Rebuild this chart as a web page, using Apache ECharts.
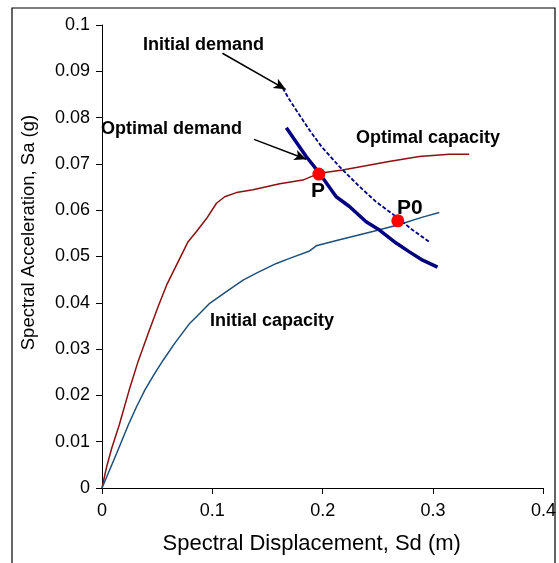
<!DOCTYPE html>
<html>
<head>
<meta charset="utf-8">
<script src="https://cdn.jsdelivr.net/npm/echarts@6/dist/echarts.min.js"></script>
<style>html,body{margin:0;padding:0;background:#fff}#c{width:559px;height:563px}</style>
</head>
<body>
<div id="c"></div>
<script>
// Axis ticks
const xTicks = [0, 0.1, 0.2, 0.3, 0.4];
const yTicks = [0, 0.01, 0.02, 0.03, 0.04, 0.05, 0.06, 0.07, 0.08, 0.09, 0.1];

// Optimal capacity (dark red)
const optCapX = [0, 0.0042, 0.0088, 0.0156, 0.0247, 0.0328, 0.0419, 0.0509, 0.0585, 0.0705, 0.078, 0.0856, 0.0947, 0.1037, 0.1112, 0.1218, 0.1368, 0.161, 0.182, 0.197, 0.218, 0.26, 0.2875, 0.3146, 0.3327];
const optCapY = [0, 0.0046, 0.0086, 0.0136, 0.0212, 0.0274, 0.0334, 0.0392, 0.0438, 0.0496, 0.0532, 0.0554, 0.0582, 0.0615, 0.0629, 0.0638, 0.0644, 0.0657, 0.0665, 0.068, 0.0687, 0.0705, 0.0716, 0.0721, 0.0721];

// Initial capacity (blue)
const iniCapX = [0, 0.0133, 0.0238, 0.0314, 0.0389, 0.0479, 0.0554, 0.066, 0.0796, 0.0856, 0.0976, 0.1127, 0.1278, 0.1399, 0.158, 0.17, 0.1881, 0.1941, 0.2152, 0.2453, 0.2679, 0.2905, 0.3056];
const iniCapY = [0, 0.0075, 0.0136, 0.0176, 0.0212, 0.0248, 0.0276, 0.0313, 0.0356, 0.037, 0.0399, 0.0424, 0.0449, 0.0464, 0.0485, 0.0496, 0.0512, 0.0523, 0.0536, 0.0554, 0.0568, 0.0585, 0.0595];

// Optimal demand (thick navy)
const optDemX = [0.167, 0.185, 0.197, 0.2122, 0.2242, 0.2393, 0.2514, 0.2665, 0.2785, 0.2905, 0.304];
const optDemY = [0.0778, 0.0716, 0.068, 0.0629, 0.0608, 0.0575, 0.0557, 0.0529, 0.051, 0.0492, 0.0477];

// Initial demand (dashed navy)
const iniDemX = [0.161, 0.17, 0.176, 0.188, 0.199, 0.2152, 0.2333, 0.2484, 0.2665, 0.2815, 0.2975];
const iniDemY = [0.0875, 0.0838, 0.0816, 0.0773, 0.0737, 0.0694, 0.0651, 0.0618, 0.0586, 0.0557, 0.053];

// Performance points
const pointNames = ['P', 'P0'];
const pointX = [0.1965, 0.268];
const pointY = [0.0678, 0.0577];

// Arrow annotations: [startX, startY, endX, endY]
const arrowInitialDemand = [0.1091, 0.0939, 0.1664, 0.0861];
const arrowOptimalDemand = [0.1377, 0.0753, 0.1851, 0.0710];

const zip = (a, b) => a.map((v, i) => [v, b[i]]);
const FONT = "'Liberation Sans', Arial, sans-serif";

const chart = echarts.init(document.getElementById('c'), null, {renderer: 'canvas'});
const arrowLine = (a) => [{coord: [a[0], a[1]]}, {coord: [a[2], a[3]]}];

chart.setOption({
  animation: false,
  backgroundColor: '#fff',
  grid: {left: 102, right: 15, top: 25, bottom: 75, containLabel: false},
  xAxis: {
    type: 'value', min: xTicks[0], max: xTicks[xTicks.length - 1], interval: 0.1,
    name: 'Spectral Displacement, Sd (m)', nameLocation: 'middle', nameGap: 45,
    nameTextStyle: {fontFamily: FONT, fontSize: 22, color: '#000', padding: [0, 22, 0, 0]},
    axisLine: {show: true, lineStyle: {color: '#000', width: 1}},
    axisTick: {show: true, inside: false, length: 6, lineStyle: {color: '#000'}},
    axisLabel: {fontFamily: FONT, fontSize: 18, color: '#000', margin: 14,
      formatter: v => String(+v.toFixed(2))},
    splitLine: {show: false}
  },
  yAxis: {
    type: 'value', min: yTicks[0], max: yTicks[yTicks.length - 1], interval: 0.01,
    name: 'Spectral Acceleration, Sa (g)', nameLocation: 'middle', nameGap: 64,
    nameTextStyle: {fontFamily: FONT, fontSize: 18.5, color: '#000', padding: [0, 0, 0, 48]},
    axisLine: {show: true, lineStyle: {color: '#000', width: 1}},
    axisTick: {show: true, inside: false, length: 6, lineStyle: {color: '#000'}},
    axisLabel: {fontFamily: FONT, fontSize: 18, color: '#000', margin: 12,
      formatter: v => String(+v.toFixed(2))},
    splitLine: {show: false}
  },
  series: [
    {type: 'line', name: 'Optimal capacity', data: zip(optCapX, optCapY), symbol: 'none',
     lineStyle: {color: '#8b1010', width: 1.5}, z: 2},
    {type: 'line', name: 'Initial capacity', data: zip(iniCapX, iniCapY), symbol: 'none',
     lineStyle: {color: '#1d4f7c', width: 1.5}, z: 2},
    {type: 'line', name: 'Initial demand', data: zip(iniDemX, iniDemY), symbol: 'none',
     lineStyle: {color: '#000080', width: 1.8, type: [4, 2]}, z: 3},
    {type: 'line', name: 'Optimal demand', data: zip(optDemX, optDemY), symbol: 'none',
     lineStyle: {color: '#000080', width: 3.5}, z: 3,
     markLine: {
       silent: true, symbol: ['none', 'arrow'], symbolSize: [8, 12],
       label: {show: false},
       lineStyle: {color: '#000', width: 1.5, type: 'solid'},
       data: [arrowLine(arrowInitialDemand), arrowLine(arrowOptimalDemand)]
     }},
    {type: 'scatter', name: 'points', symbol: 'circle', symbolSize: 13,
     itemStyle: {color: '#ff0000', opacity: 1}, z: 5,
     data: pointNames.map((n, i) => ({
       name: n, value: [pointX[i], pointY[i]],
       label: {show: true, formatter: n, position: 'inside',
         offset: i === 0 ? [-1, 17] : [12, -13],
         fontFamily: FONT, fontWeight: 'bold', fontSize: 21, color: '#000',
         textBorderWidth: 0, textShadowBlur: 0}
     }))}
  ],
  graphic: [
    {type: 'rect', shape: {x: 12, y: 8, width: 543, height: 600},
     style: {fill: 'transparent', stroke: '#000', lineWidth: 1.2}, silent: true},
    {type: 'text', x: 143, y: 45, style: {text: 'Initial demand', font: "bold 18px 'Liberation Sans', Arial", fill: '#000', verticalAlign: 'middle'}},
    {type: 'text', x: 101, y: 129, style: {text: 'Optimal demand', font: "bold 18px 'Liberation Sans', Arial", fill: '#000', verticalAlign: 'middle'}},
    {type: 'text', x: 356, y: 138, style: {text: 'Optimal capacity', font: "bold 18px 'Liberation Sans', Arial", fill: '#000', verticalAlign: 'middle'}},
    {type: 'text', x: 210, y: 321, style: {text: 'Initial capacity', font: "bold 18px 'Liberation Sans', Arial", fill: '#000', verticalAlign: 'middle'}}
  ]
});
</script>
</body>
</html>
